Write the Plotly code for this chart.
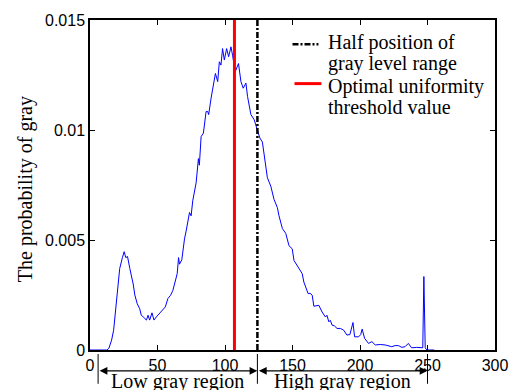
import plotly.graph_objects as go

# ---- data ----
gray_level = [0, 10, 12.5, 14, 16, 17.5, 18.5, 19.5, 20.5, 22, 24, 25.3, 26.5, 27.8, 29.5, 31, 32, 33.2, 35,
              36.8, 38, 39.5, 40.5, 41.8, 43, 44.2, 45.9, 47.4, 49.1, 51.6, 54, 55.8, 57.7, 59.7, 61.4, 62.6,
              64.6, 65.6, 66.3, 68, 68.8, 70, 71.2, 73.7, 74.9, 76.1, 78.6, 80.3, 81, 82.3, 84, 86, 87.2, 87.9,
              89.7, 90.9, 92.9, 94.6, 95.8, 97, 98.2, 99.5, 101.2, 102.7, 104.4, 105.6, 107.6, 110, 111.8,
              113.5, 115.5, 116.7, 119.2, 121.6, 124, 125.8, 127.7, 129, 130.2, 131.4, 133.9, 136.3, 138.8,
              140, 142.5, 145, 147.4, 149.8, 151.1, 153.5, 154.8, 157.2, 158.4, 159.7, 161.6, 163, 164.6,
              165.8, 168, 169.5, 171.9, 173, 174.4, 175.5, 176.9, 178, 179.3, 181, 183, 185.5, 187.9, 190.3,
              192.5, 194.8, 196, 199, 200.5, 201.6, 203.4, 206.3, 208.8, 211.3, 215, 218.6, 223.5, 226, 228.4,
              231, 233.4, 235.8, 238.2, 242, 245.6, 246.5, 247.3, 248.3, 249.5, 255]
probability = [0, 0, 0, 0.00008, 0.00045, 0.0009, 0.0015, 0.0024, 0.0030, 0.0037, 0.0042, 0.00447, 0.0042,
               0.00425, 0.0037, 0.0033, 0.0030, 0.0025, 0.0021, 0.00188, 0.00158, 0.0015, 0.00143, 0.00136,
               0.00158, 0.00136, 0.00169, 0.00136, 0.0015, 0.00166, 0.0018, 0.00196, 0.00234, 0.00249, 0.00271,
               0.0030, 0.00347, 0.0042, 0.0039, 0.0041, 0.0045, 0.00505, 0.0054, 0.00625, 0.0061, 0.00678,
               0.0076, 0.0087, 0.0084, 0.0097, 0.00986, 0.01084, 0.01084, 0.0107, 0.01145, 0.0119, 0.01257,
               0.0122, 0.0131, 0.01295, 0.0137, 0.01318, 0.0137, 0.01333, 0.01378, 0.0134, 0.01265, 0.01302,
               0.0122, 0.0119, 0.01213, 0.01152, 0.0107, 0.01047, 0.00995, 0.00964, 0.00945, 0.00889, 0.00858,
               0.00783, 0.00745, 0.00685, 0.00647, 0.0061, 0.00552, 0.0053, 0.00474, 0.0046, 0.00407, 0.00384,
               0.00369, 0.00347, 0.00309, 0.00286, 0.00256, 0.00258, 0.00249, 0.00199, 0.002, 0.00203, 0.00173,
               0.00165, 0.0015, 0.00158, 0.00128, 0.00135, 0.00113, 0.0011, 0.00098, 0.00098, 0.0009, 0.00068,
               0.0007, 0.00125, 0.0006, 0.0006, 0.0007, 0.00095, 0.00053, 0.0003, 0.00038, 0.00023, 0.00025,
               0.00023, 0.00015, 0.0002, 0.0002, 0.00012, 0.00015, 0.0003, 0.0001, 0.00012, 0.0001, 0.0001,
               0.00334, 0.0001, 0, 0]

half_position = 124
optimal_threshold = 107
region_bounds = [6, 124, 250]
region_labels = ["Low gray region", "High gray region"]
x_ticks = [0, 50, 100, 150, 200, 250, 300]
y_ticks = [0, 0.005, 0.01, 0.015]
y_tick_text = ["0", "0.005", "0.01", "0.015"]
legend_lines = [["Half position of", "gray level range"], ["Optimal uniformity", "threshold value"]]
y_title = "The probability of gray"

SERIF = "Liberation Serif"
SANS = "Liberation Sans"
DASHDOT = "6px,2px,2px,2px"
RED = "#FF0000"

fig = go.Figure()
fig.add_trace(go.Scatter(x=gray_level, y=probability, mode="lines",
                         line=dict(color="#0000FF", width=1), showlegend=False))
fig.add_trace(go.Scatter(x=[half_position, half_position], y=[0, 0.015], mode="lines",
                         line=dict(color="black", width=2.5, dash=DASHDOT), showlegend=False))
fig.add_trace(go.Scatter(x=[optimal_threshold, optimal_threshold], y=[0, 0.015], mode="lines",
                         line=dict(color=RED, width=3), showlegend=False))

axis_common = dict(showline=True, linecolor="black", linewidth=1.5, mirror="ticks",
                   ticks="inside", ticklen=5, tickcolor="black", tickwidth=1,
                   showgrid=False, zeroline=False,
                   tickfont=dict(family=SANS, size=16, color="black"))

PW, PH, ML, MT = 406, 332, 90, 18


def px_x(px):
    return (px - ML) / PW


def px_y(py):
    return (MT + PH - py) / PH


fig.update_layout(
    width=520, height=390,
    margin=dict(l=ML, r=520 - ML - PW, t=MT, b=390 - MT - PH),
    paper_bgcolor="white", plot_bgcolor="white",
    xaxis=dict(range=[0, 300], tickvals=x_ticks, **axis_common),
    yaxis=dict(range=[0, 0.015], tickvals=y_ticks, ticktext=y_tick_text, **axis_common),
    showlegend=False,
)

annotations = []
annotations.append(dict(text=y_title, x=px_x(26), y=px_y(188), xref="paper", yref="paper",
                        textangle=-90, showarrow=False, xanchor="center", yanchor="middle",
                        font=dict(family=SERIF, size=20, color="black")))
arrow_y = px_y(371)
for i in range(2):
    a, b = region_bounds[i], region_bounds[i + 1]
    annotations.append(dict(x=b, y=arrow_y, xref="x", yref="paper", ax=a, ay=0, axref="x", ayref="pixel",
                            text="", showarrow=True, arrowside="end+start", arrowhead=2, startarrowhead=2,
                            arrowsize=1.3, startarrowsize=1.3, arrowwidth=1.2, arrowcolor="black",
                            standoff=0, startstandoff=0))
    annotations.append(dict(text=region_labels[i], x=(a + b) / 2, y=px_y(368), xref="x", yref="paper",
                            showarrow=False, xanchor="center", yanchor="top",
                            font=dict(family=SERIF, size=20, color="black")))

# legend (text lines placed individually to keep the tight line spacing of the original)
legend_text_y = [[41, 62], [85, 106]]
for lines, ys in zip(legend_lines, legend_text_y):
    for t, yy in zip(lines, ys):
        annotations.append(dict(text=t, x=px_x(327), y=px_y(yy), xref="paper", yref="paper",
                                showarrow=False, xanchor="left", yanchor="middle",
                                font=dict(family=SERIF, size=20, color="black")))
fig.update_layout(annotations=annotations)

shapes = []
for xb in region_bounds:
    shapes.append(dict(type="line", xref="x", yref="paper", x0=xb, x1=xb, y0=px_y(354), y1=px_y(384),
                       line=dict(color="black", width=1)))
shapes.append(dict(type="line", xref="paper", yref="paper", x0=px_x(293), x1=px_x(319),
                   y0=px_y(42.5), y1=px_y(42.5), line=dict(color="black", width=2.5, dash=DASHDOT)))
shapes.append(dict(type="line", xref="paper", yref="paper", x0=px_x(295), x1=px_x(322),
                   y0=px_y(82), y1=px_y(82), line=dict(color=RED, width=3)))
fig.update_layout(shapes=shapes)

fig.write_html("out.html")
